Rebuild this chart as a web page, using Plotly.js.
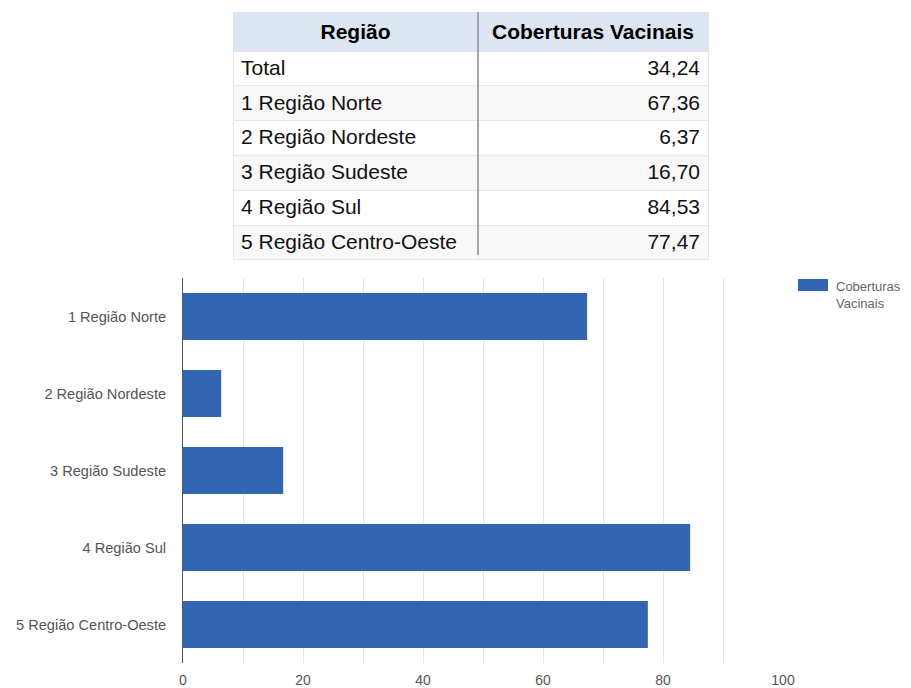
<!DOCTYPE html>
<html>
<head>
<meta charset="utf-8">
<script src="https://cdn.plot.ly/plotly-3.0.1.min.js"></script>
<style>
  html, body { margin: 0; padding: 0; background: #fff; }
  #chart { width: 911px; height: 688px; }
</style>
</head>
<body>
<div id="chart"></div>
<script>
// ---- data ----
const tableHeader = ["Região", "Coberturas Vacinais"];
const totalLabel = "Total";
const totalValue = 34.24;
const regions = ["1 Região Norte", "2 Região Nordeste", "3 Região Sudeste", "4 Região Sul", "5 Região Centro-Oeste"];
const coverage = [67.36, 6.37, 16.70, 84.53, 77.47];
const seriesName = "Coberturas Vacinais";
const xTickVals = [0, 20, 40, 60, 80, 100];
const xTickText = ["0", "20", "40", "60", "80", "100"];

// ---- helpers ----
const W = 911, H = 688;
const px = x => x / W;
const py = y => 1 - y / H;
const fmt = v => v.toFixed(2).replace('.', ',');

const tableCol1 = [totalLabel].concat(regions);
const tableCol2 = [totalValue].concat(coverage).map(fmt);
const rowFill = tableCol1.map((_, i) => (i % 2 === 1 ? '#f8f8f8' : '#ffffff'));

const table = {
  type: 'table',
  domain: { x: [px(233), px(708)], y: [py(272), py(12)] },
  columnwidth: [245, 230],
  header: {
    values: tableHeader.map(h => '<b>' + h + '</b>'),
    align: ['center', 'center'],
    height: 34,
    fill: { color: '#dce5f1' },
    line: { color: '#dce5f1', width: 1 },
    font: { family: 'Liberation Sans, Arial, sans-serif', size: 21, color: '#000' }
  },
  cells: {
    values: [tableCol1, tableCol2],
    align: ['left', 'right'],
    height: 34.8,
    fill: { color: [rowFill, rowFill] },
    line: { color: '#e6e6e6', width: 1 },
    font: { family: 'Liberation Sans, Arial, sans-serif', size: 21, color: '#111' }
  }
};

const bars = {
  type: 'bar',
  orientation: 'h',
  name: seriesName,
  x: coverage,
  y: regions,
  marker: { color: '#3266b2' },
  width: 0.61,
  showlegend: false,
  hoverinfo: 'x+y'
};

const layout = {
  width: W, height: H,
  margin: { l: 0, r: 0, t: 0, b: 0 },
  paper_bgcolor: '#fff',
  plot_bgcolor: '#fff',
  font: { family: 'Liberation Sans, Arial, sans-serif', size: 14, color: '#555' },
  xaxis: {
    domain: [px(183), px(783)],
    range: [0, 100],
    tickvals: xTickVals,
    ticktext: xTickText,
    showgrid: true,
    gridcolor: '#e4e4e4',
    gridwidth: 1,
    minor: { dtick: 10, tick0: 0, showgrid: true, gridcolor: '#e4e4e4', gridwidth: 1 },
    zeroline: false,
    showline: false,
    ticks: '',
    ticklabelstandoff: 7,
    tickfont: { size: 14, color: '#555' },
    fixedrange: true
  },
  yaxis: {
    domain: [py(663), py(278)],
    autorange: 'reversed',
    showline: true,
    linecolor: '#555',
    linewidth: 1,
    showgrid: false,
    zeroline: false,
    ticks: '',
    ticklabelstandoff: 13,
    tickfont: { size: 14.6, color: '#555' },
    fixedrange: true
  },
  shapes: [
    { type: 'line', xref: 'paper', yref: 'paper', x0: px(478), x1: px(478), y0: py(12), y1: py(255),
      line: { color: '#8e8e8e', width: 1.5 } },
    { type: 'rect', xref: 'paper', yref: 'paper', x0: px(798), x1: px(828), y0: py(291), y1: py(279),
      fillcolor: '#3266b2', line: { width: 0 } }
  ],
  annotations: [
    { xref: 'paper', yref: 'paper', x: px(834), y: py(277), xanchor: 'left', yanchor: 'top',
      text: 'Coberturas<br>Vacinais', showarrow: false, align: 'left',
      font: { size: 13, color: '#666' } }
  ]
};

Plotly.newPlot('chart', [table, bars], layout, { displayModeBar: false, staticPlot: true });
</script>
</body>
</html>
